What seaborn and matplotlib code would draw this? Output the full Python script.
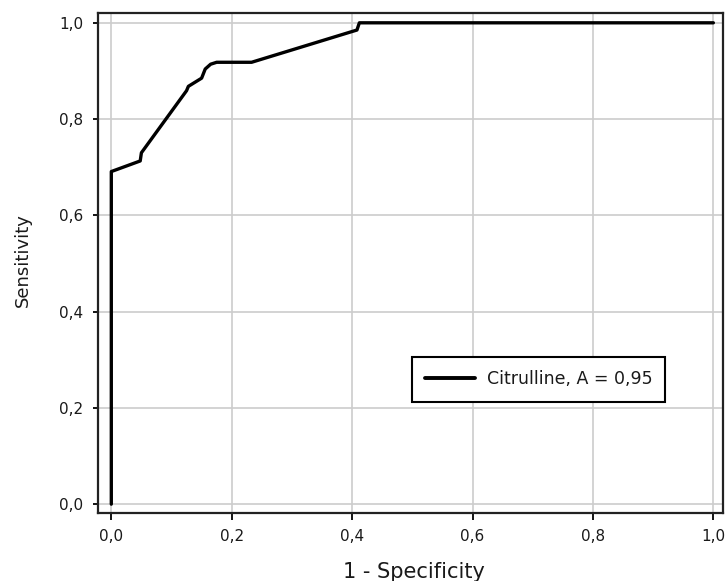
import matplotlib
matplotlib.use("Agg")
import matplotlib.pyplot as plt
import seaborn as sns
import pandas as pd
from matplotlib.ticker import FuncFormatter

# ROC curve
fpr = [0.0, 0.0, 0.048, 0.050, 0.125, 0.128, 0.150, 0.156, 0.165, 0.175, 0.233, 0.408, 0.412, 1.0]
tpr = [0.0, 0.691, 0.713, 0.730, 0.859, 0.868, 0.885, 0.904, 0.914, 0.918, 0.918, 0.985, 1.0, 1.0]
series_label = "Citrulline, A = 0,95"
ticks = [0.0, 0.2, 0.4, 0.6, 0.8, 1.0]

sns.set_style("ticks")
plt.rcParams['font.family'] = ['DejaVu Sans']

df = pd.DataFrame({"fpr": fpr, "tpr": tpr, "label": series_label})

W, H = 728, 581
fig = plt.figure(figsize=(W / 100, H / 100), dpi=100)
L, R, T, B = 98.3, 723.0, 12.7, 513.3
ax = fig.add_axes([L / W, 1 - B / H, (R - L) / W, (B - T) / H])

sns.lineplot(data=df, x="fpr", y="tpr", hue="label", palette=["black"],
             sort=False, estimator=None, linewidth=2.4, ax=ax, legend=True)

ax.set_xlim(-0.0216, 1.016)
ax.set_ylim(-0.019, 1.021)
ax.set_xticks(ticks)
ax.set_yticks(ticks)
fmt = FuncFormatter(lambda v, p: f"{v:.1f}".replace(".", ","))
ax.xaxis.set_major_formatter(fmt)
ax.yaxis.set_major_formatter(fmt)
txtc = "#1a1a1a"
ax.tick_params(axis="x", labelsize=11, length=5, width=1.3, color="black", pad=6,
               labelcolor=txtc)
ax.tick_params(axis="y", labelsize=11, length=3.6, width=1.3, color="black", pad=7,
               labelcolor=txtc)
ax.grid(True, color="#cccccc", linewidth=1.2)
ax.set_axisbelow(True)
for s in ax.spines.values():
    s.set_visible(True)
    s.set_color("#222222")
    s.set_linewidth(1.6)

ax.set_xlabel("")
ax.set_ylabel("")
fig.text(414 / W, 1 - 578 / H, "1 - Specificity", fontsize=15, color=txtc,
         ha="center", va="baseline")
fig.text(23 / W, 1 - 260 / H, "Sensitivity", fontsize=13, color=txtc,
         ha="center", va="center", rotation=90)

leg = ax.legend(loc="center", bbox_to_anchor=(0.7047, 0.2673), fontsize=12.5,
                frameon=True, fancybox=False, edgecolor="black", framealpha=1,
                handlelength=2.9, borderpad=0.75, handletextpad=0.65, borderaxespad=0,
                title=None)
leg.get_frame().set_linewidth(1.5)
for t in leg.get_texts():
    t.set_color(txtc)
for l in leg.get_lines():
    l.set_linewidth(2.8)

fig.savefig("out.png", dpi=100)
